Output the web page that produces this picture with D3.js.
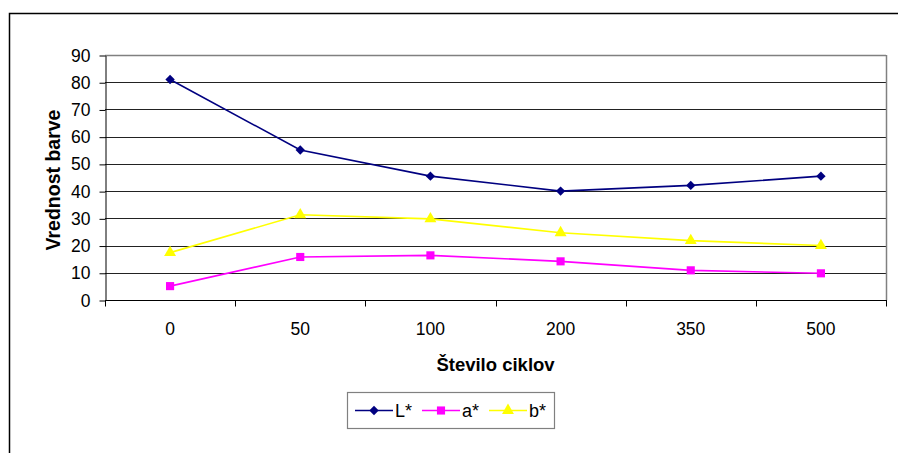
<!DOCTYPE html>
<html>
<head>
<meta charset="utf-8">
<script src="https://cdn.jsdelivr.net/npm/d3@7/dist/d3.min.js"></script>
<style>
  html, body { margin: 0; padding: 0; background: #fff; }
  svg { display: block; font-family: "Liberation Sans", Arial, sans-serif; }
</style>
</head>
<body>
<svg id="chart" width="898" height="453"></svg>
<script>
// Number of cycles (categories on the x axis)
const cycles = ["0", "50", "100", "200", "350", "500"];
// Colour values per cycle count
const valuesL = [81.0, 55.1, 45.5, 40.0, 42.1, 45.5];
const valuesA = [5.1, 15.8, 16.4, 14.2, 10.9, 9.8];
const valuesB = [17.4, 31.3, 29.8, 24.7, 21.8, 20.0];
const yTicks = [0, 10, 20, 30, 40, 50, 60, 70, 80, 90];
const seriesNames = ["L*", "a*", "b*"];
const seriesColors = ["#000080", "#FF00FF", "#FFFF00"];

// Marker shapes: diamond (rotated square), square, triangle
const markerPath = {
  "L*": d3.symbol().type(d3.symbolSquare).size(44)(),
  "a*": d3.symbol().type(d3.symbolSquare).size(66)(),
  "b*": d3.symbol().type(d3.symbolTriangle).size(62)()
};
const markerRotate = { "L*": 45, "a*": 0, "b*": 0 };

const series = seriesNames.map((name, i) => ({
  name,
  color: seriesColors[i],
  values: [valuesL, valuesA, valuesB][i]
}));

const svg = d3.select("#chart");
const plot = { left: 105, right: 886, top: 55, bottom: 300 };

// Outer frame (left and top edges)
svg.append("path")
  .attr("d", "M9.5,453 V13.5 H898")
  .attr("fill", "none").attr("stroke", "#000").attr("stroke-width", 1.5);

const x = d3.scaleBand().domain(cycles).range([plot.left, plot.right]).padding(0);
const y = d3.scaleLinear().domain([0, 90]).range([plot.bottom, plot.top]);

// Horizontal gridlines
svg.append("g")
  .selectAll("line")
  .data(yTicks.filter(t => t > 0))
  .join("line")
  .attr("x1", plot.left).attr("x2", plot.right)
  .attr("y1", d => Math.round(y(d)) + 0.5).attr("y2", d => Math.round(y(d)) + 0.5)
  .attr("stroke", d => d === 90 ? "#808080" : "#222")
  .attr("stroke-width", d => d === 90 ? 1.5 : 1);

// Plot area right border
svg.append("line")
  .attr("x1", plot.right + 0.5).attr("x2", plot.right + 0.5)
  .attr("y1", plot.top).attr("y2", plot.bottom)
  .attr("stroke", "#808080").attr("stroke-width", 1.5);

// Y axis
const yAxis = svg.append("g")
  .attr("transform", `translate(${plot.left + 0.5},0.5)`)
  .call(d3.axisLeft(y).tickValues(yTicks).tickSize(6).tickPadding(9).tickSizeOuter(0));
yAxis.select(".domain").attr("stroke", "#000");
yAxis.selectAll(".tick line").attr("stroke", "#000");
yAxis.selectAll("text").attr("font-size", "17.5px").attr("fill", "#000")
  .attr("font-family", "'Liberation Sans', Arial, sans-serif");

// X axis: ticks at category boundaries, labels centred in each band
const xAxisG = svg.append("g").attr("transform", `translate(0,${plot.bottom + 0.5})`);
xAxisG.append("line")
  .attr("x1", plot.left).attr("x2", plot.right + 1)
  .attr("stroke", "#000");
const bounds = cycles.map(c => x(c)).concat([plot.right]);
xAxisG.selectAll(".bt")
  .data(bounds)
  .join("line")
  .attr("class", "bt")
  .attr("x1", d => Math.round(d) + 0.5).attr("x2", d => Math.round(d) + 0.5)
  .attr("y1", 0).attr("y2", 6)
  .attr("stroke", "#000");
xAxisG.selectAll(".lbl")
  .data(cycles)
  .join("text")
  .attr("class", "lbl")
  .attr("x", d => x(d) + x.bandwidth() / 2)
  .attr("y", 34.5)
  .attr("text-anchor", "middle")
  .attr("font-size", "17.5px")
  .text(d => d);

// Axis titles
svg.append("text")
  .attr("x", (plot.left + plot.right) / 2)
  .attr("y", 371)
  .attr("text-anchor", "middle")
  .attr("font-weight", "bold")
  .attr("font-size", "18.5px")
  .text("Število ciklov");

svg.append("text")
  .attr("transform", `translate(60,180) rotate(-90)`)
  .attr("text-anchor", "middle")
  .attr("font-weight", "bold")
  .attr("font-size", "19.5px")
  .text("Vrednost barve");

// Series lines and markers
const line = d3.line()
  .x((d, i) => x(cycles[i]) + x.bandwidth() / 2)
  .y(d => y(d));

series.forEach(s => {
  const g = svg.append("g");
  g.append("path")
    .attr("d", line(s.values))
    .attr("fill", "none")
    .attr("stroke", s.color)
    .attr("stroke-width", 1.6);
  g.selectAll("path.m")
    .data(s.values)
    .join("path")
    .attr("class", "m")
    .attr("transform", (d, i) =>
      `translate(${x(cycles[i]) + x.bandwidth() / 2},${y(d)}) rotate(${markerRotate[s.name]})`)
    .attr("d", markerPath[s.name])
    .attr("fill", s.color);
});

// Legend
const legend = svg.append("g");
legend.append("rect")
  .attr("x", 347.5).attr("y", 392.5)
  .attr("width", 207).attr("height", 36)
  .attr("fill", "#fff").attr("stroke", "#808080").attr("stroke-width", 1.2);

const legendX = [355, 422, 489];
series.forEach((s, i) => {
  const lx = legendX[i];
  const cy = 410.5;
  legend.append("line")
    .attr("x1", lx).attr("x2", lx + 38)
    .attr("y1", cy).attr("y2", cy)
    .attr("stroke", s.color).attr("stroke-width", 1.6);
  legend.append("path")
    .attr("transform", `translate(${lx + 19},${cy}) rotate(${markerRotate[s.name]})`)
    .attr("d", markerPath[s.name])
    .attr("fill", s.color);
  legend.append("text")
    .attr("x", lx + 40)
    .attr("y", cy + 6.5)
    .attr("font-size", "18px")
    .text(s.name);
});
</script>
</body>
</html>
